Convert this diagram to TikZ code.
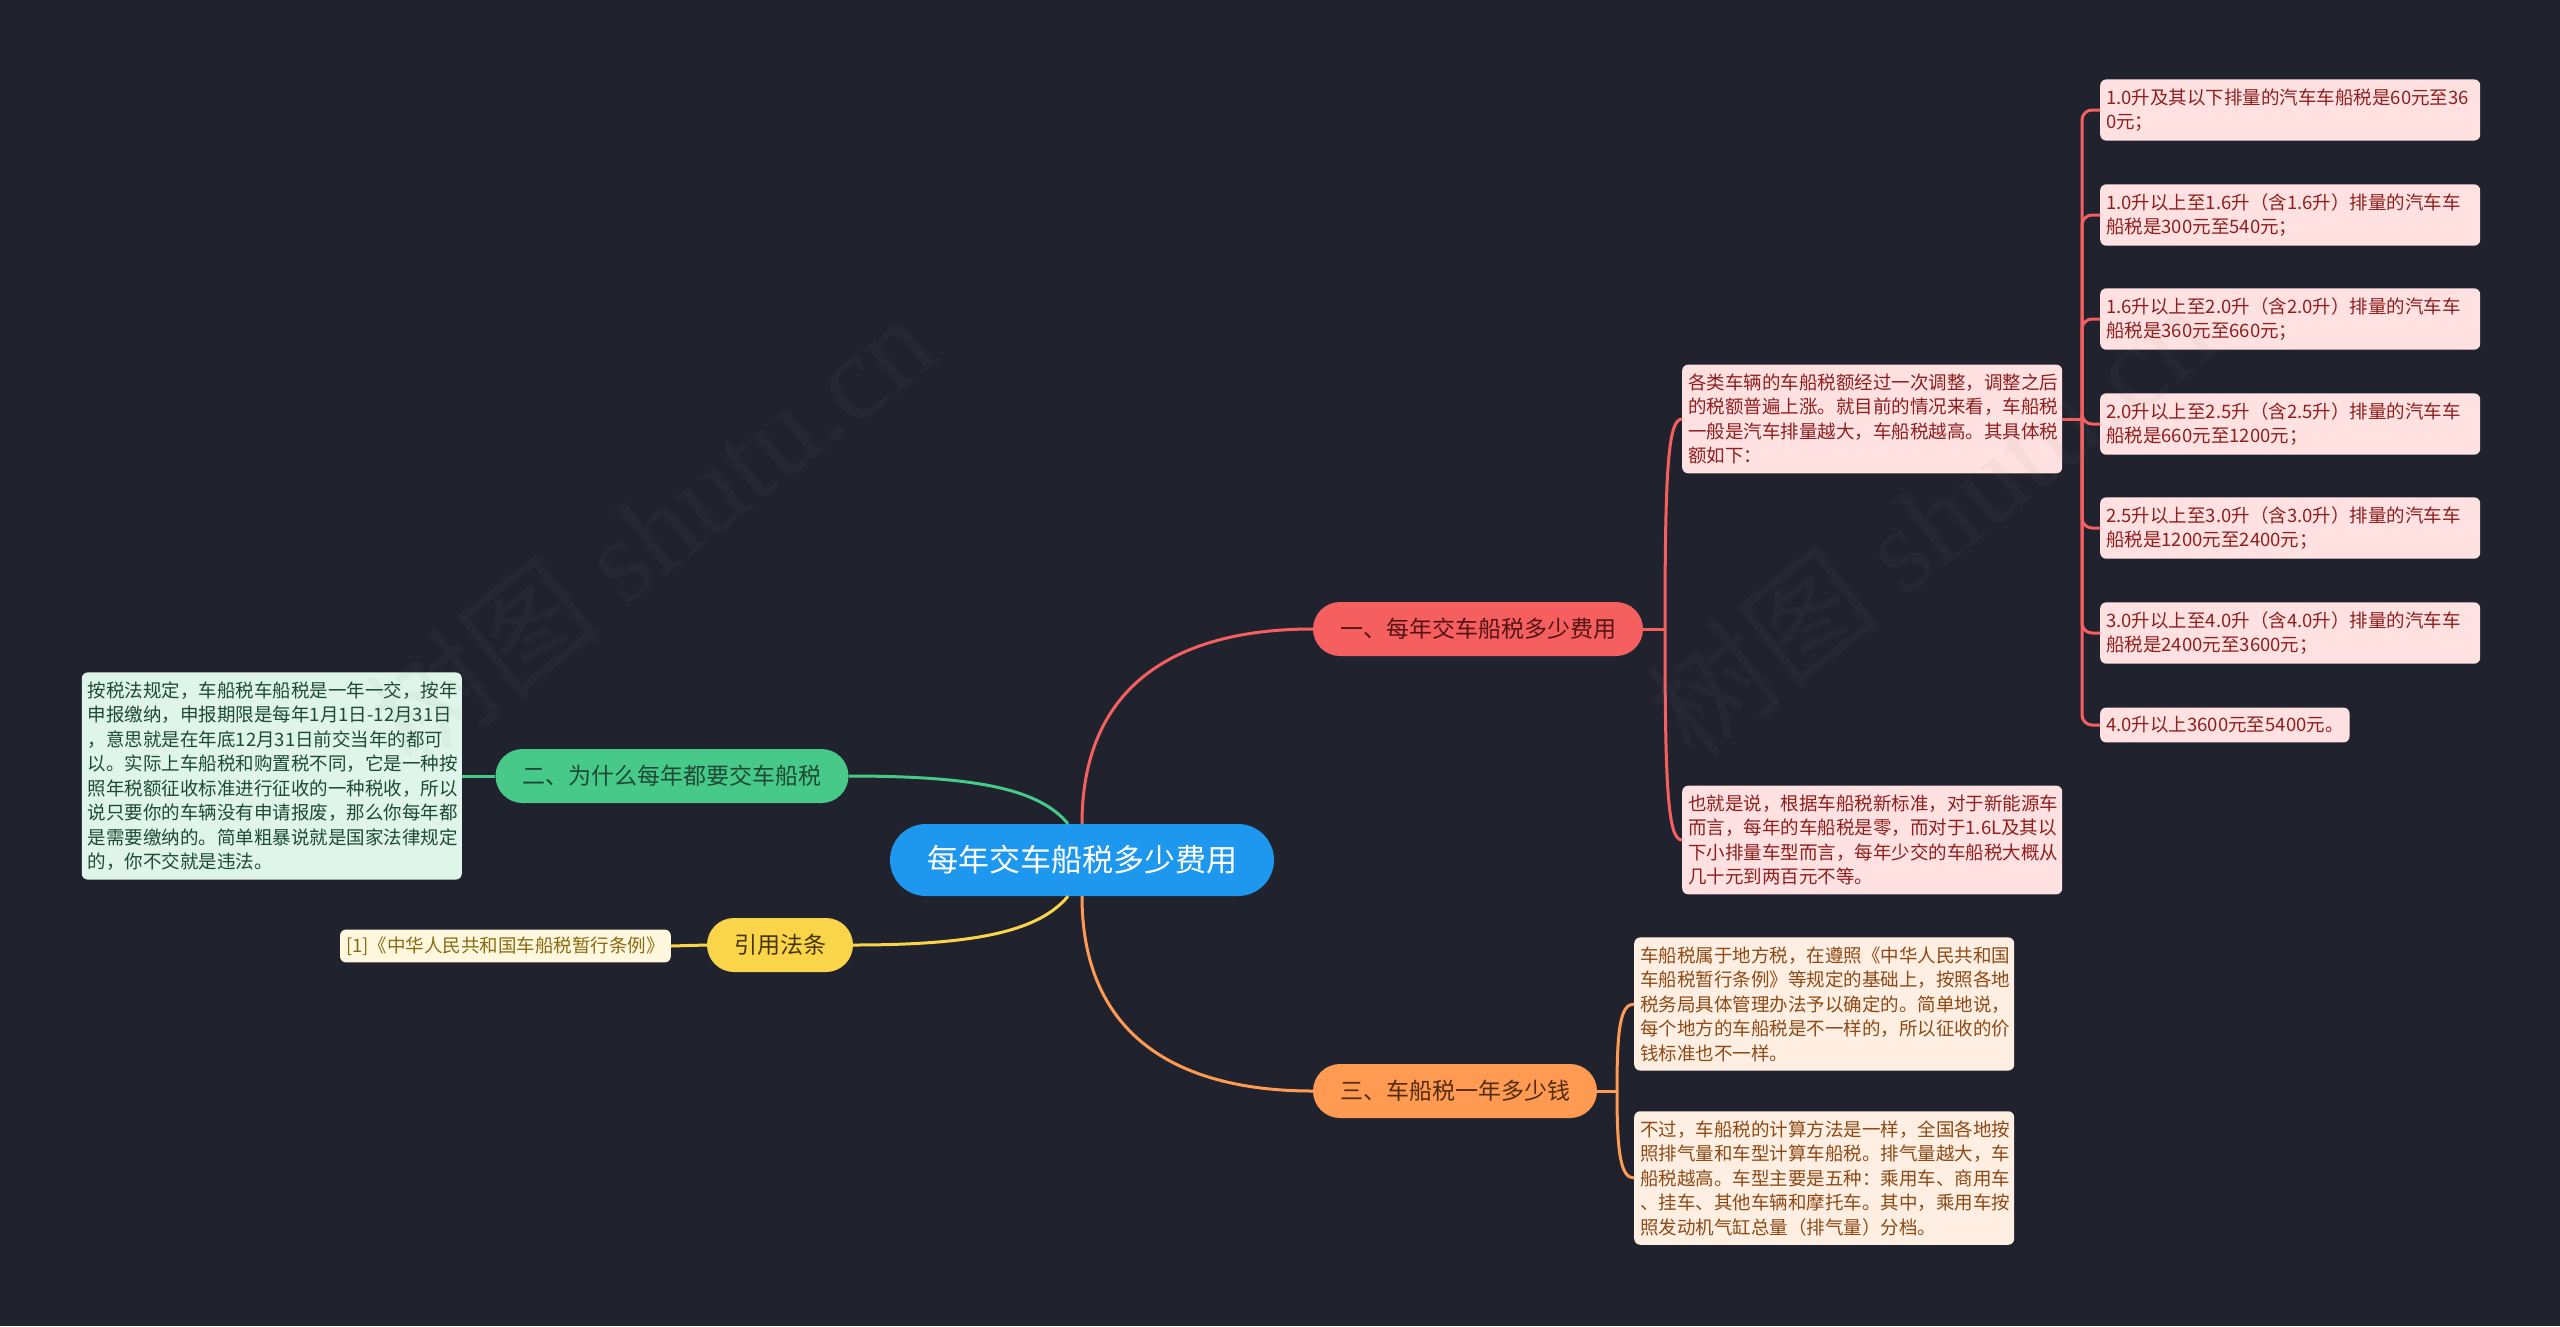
\documentclass[tikz,border=0pt]{standalone}
\usepackage{fontspec}
\setmainfont{Noto Sans CJK SC}
\newfontfamily\wmfont{Liberation Serif}
\usepackage{xcolor}
\usepackage{tikz}
\usetikzlibrary{positioning, calc}
\definecolor{bgDark}{HTML}{20232E}
\definecolor{rootBlue}{HTML}{1E98EE}
\definecolor{brRed}{HTML}{F55F5F}
\definecolor{brGreen}{HTML}{47C98A}
\definecolor{brYellow}{HTML}{FAD54A}
\definecolor{brOrange}{HTML}{FF9A52}
\definecolor{lfRed}{HTML}{FFE1E1}
\definecolor{lfOrange}{HTML}{FFEEE2}
\definecolor{lfGreen}{HTML}{DFF5EA}
\definecolor{lfYellow}{HTML}{FFF8DE}
\definecolor{txRed}{HTML}{8E1F1F}
\definecolor{txOrange}{HTML}{8C4A16}
\definecolor{txGreen}{HTML}{1E4A35}
\definecolor{txYellow}{HTML}{8A6A12}

\begin{document}
\begin{tikzpicture}[x=1pt, y=-1pt,
  rootnode/.style={fill=rootBlue, text=white, rounded corners=36pt, minimum height=72pt,
    inner xsep=37pt, font=\fontsize{31}{31}\selectfont},
  branch/.style={rounded corners=27pt, minimum height=54pt, inner xsep=27pt,
    font=\fontsize{23}{23}\selectfont},
  box/.style={rounded corners=6pt, inner xsep=6pt, inner ysep=9pt, align=left,
    font=\fontsize{18.5}{24.5}\selectfont},
  leaf/.style={box, text width=368pt},
  edge/.style={line width=3pt}]
\useasboundingbox[fill=bgDark] (0,0) rectangle (2560,1326);

% centre and first level
\node[rootnode] (root) at (1082,860) {每年交车船税多少费用};
\node[branch, fill=brRed, text=txRed!60!black] (cost) at (1478,629) {一、每年交车船税多少费用};
\node[branch, fill=brGreen, text=txGreen] (why) at (672,776) {二、为什么每年都要交车船税};
\node[branch, fill=brYellow, text=txYellow!50!black] (law) at (780,945) {引用法条};
\node[branch, fill=brOrange, text=txOrange!60!black] (yearly) at (1455,1091) {三、车船税一年多少钱};

% red branch
\node[leaf, fill=lfRed, text=txRed, anchor=west] (adjust) at (1682,419)
  {各类车辆的车船税额经过一次调整，调整之后\\的税额普遍上涨。就目前的情况来看，车船税\\一般是汽车排量越大，车船税越高。其具体税\\额如下：};
\node[leaf, fill=lfRed, text=txRed, anchor=west] (newstd) at (1682,840)
  {也就是说，根据车船税新标准，对于新能源车\\而言，每年的车船税是零，而对于1.6L及其以\\下小排量车型而言，每年少交的车船税大概从\\几十元到两百元不等。};
\node[leaf, fill=lfRed, text=txRed, anchor=west] (rate1) at (2100,110)
  {1.0升及其以下排量的汽车车船税是60元至36\\0元；};
\node[leaf, fill=lfRed, text=txRed, anchor=west] (rate2) at (2100,215)
  {1.0升以上至1.6升（含1.6升）排量的汽车车\\船税是300元至540元；};
\node[leaf, fill=lfRed, text=txRed, anchor=west] (rate3) at (2100,319)
  {1.6升以上至2.0升（含2.0升）排量的汽车车\\船税是360元至660元；};
\node[leaf, fill=lfRed, text=txRed, anchor=west] (rate4) at (2100,424)
  {2.0升以上至2.5升（含2.5升）排量的汽车车\\船税是660元至1200元；};
\node[leaf, fill=lfRed, text=txRed, anchor=west] (rate5) at (2100,528)
  {2.5升以上至3.0升（含3.0升）排量的汽车车\\船税是1200元至2400元；};
\node[leaf, fill=lfRed, text=txRed, anchor=west] (rate6) at (2100,633)
  {3.0升以上至4.0升（含4.0升）排量的汽车车\\船税是2400元至3600元；};
\node[box, fill=lfRed, text=txRed, anchor=west] (rate7) at (2100,725)
  {4.0升以上3600元至5400元。};

% green and yellow branches
\node[leaf, fill=lfGreen, text=txGreen, anchor=east] (reason) at (462,776)
  {按税法规定，车船税车船税是一年一交，按年\\申报缴纳，申报期限是每年1月1日-12月31日\\，意思就是在年底12月31日前交当年的都可\\以。实际上车船税和购置税不同，它是一种按\\照年税额征收标准进行征收的一种税收，所以\\说只要你的车辆没有申请报废，那么你每年都\\是需要缴纳的。简单粗暴说就是国家法律规定\\的，你不交就是违法。};
\node[box, fill=lfYellow, text=txYellow, anchor=east, inner ysep=7pt] (rule) at (671,946)
  {[1]《中华人民共和国车船税暂行条例》};

% orange branch
\node[leaf, fill=lfOrange, text=txOrange, anchor=west] (local) at (1634,1004)
  {车船税属于地方税，在遵照《中华人民共和国\\车船税暂行条例》等规定的基础上，按照各地\\税务局具体管理办法予以确定的。简单地说，\\每个地方的车船税是不一样的，所以征收的价\\钱标准也不一样。};
\node[leaf, fill=lfOrange, text=txOrange, anchor=west] (method) at (1634,1178)
  {不过，车船税的计算方法是一样，全国各地按\\照排气量和车型计算车船税。排气量越大，车\\船税越高。车型主要是五种：乘用车、商用车\\、挂车、其他车辆和摩托车。其中，乘用车按\\照发动机气缸总量（排气量）分档。};

% connectors from the centre
\draw[edge, brRed] (root.north) .. controls (1082,690) and (1170,629) .. (cost.west);
\draw[edge, brOrange] (root.south) .. controls (1082,1030) and (1170,1091) .. (yearly.west);
\draw[edge, brGreen] ($(root.north)+(-14,0)$) .. controls (1040,790) and (980,776) .. (why.east);
\draw[edge, brYellow] ($(root.south)+(-14,0)$) .. controls (1040,930) and (980,945) .. (law.east);
\draw[edge, brGreen] (why.west) -- (reason.east);
\draw[edge, brYellow] (law.west) -- (rule.east);

% red sub tree
\coordinate (forkA) at (1665,629);
\draw[edge, brRed] (cost.east) -- (forkA);
\draw[edge, brRed] (forkA) .. controls (1665,470) and (1668,419) .. (adjust.west);
\draw[edge, brRed] (forkA) .. controls (1665,790) and (1668,840) .. (newstd.west);
\coordinate (forkB) at (2082,419);
\draw[edge, brRed] (adjust.east) -- (forkB);
\foreach \r in {rate1,rate2,rate3,rate4,rate5,rate6,rate7}{
  \draw[edge, brRed, rounded corners=10pt] (forkB) |- (\r.west);
}

% orange sub tree
\coordinate (forkC) at (1617,1091);
\draw[edge, brOrange] (yearly.east) -- (forkC);
\draw[edge, brOrange] (forkC) .. controls (1617,1030) and (1620,1004) .. (local.west);
\draw[edge, brOrange] (forkC) .. controls (1617,1150) and (1620,1178) .. (method.west);

% watermarks
\foreach \wx/\wy in {650/530,1930/520}{
  \node[rotate=38, text=gray, opacity=0.06, font=\fontsize{120}{120}\selectfont] (wm\wx) at (\wx,\wy)
    {树图 {\wmfont shutu.cn}};
}
\end{tikzpicture}
\end{document}
